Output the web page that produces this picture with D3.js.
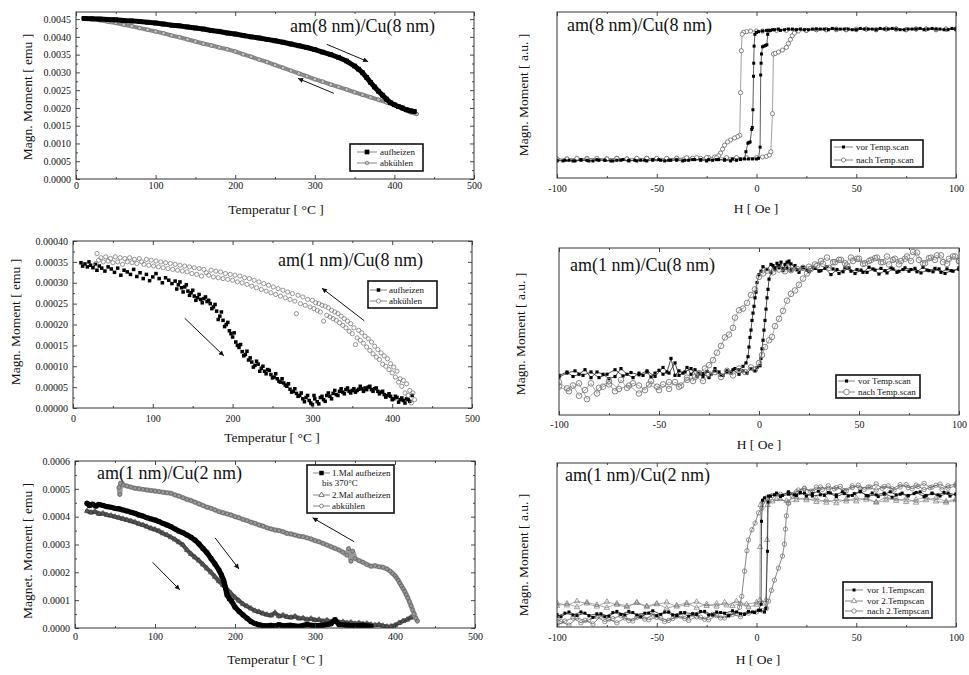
<!DOCTYPE html>
<html>
<head>
<meta charset="utf-8">
<script src="https://cdn.jsdelivr.net/npm/d3@7"></script>
<style>
  body { margin: 0; background: #fff; }
  svg text { font-family: "Liberation Serif", "Times New Roman", serif; fill: #111; }
</style>
</head>
<body>
<svg id="fig" width="969" height="675"></svg>
<script>
// ---------- tick values ----------
const tempTicks = [0, 100, 200, 300, 400, 500];
const tempMinor = [50, 150, 250, 350, 450];
const fieldTicks = [-100, -50, 0, 50, 100];
const fieldMinor = [-75, -25, 25, 75];
const p1Ticks = [0, 0.0005, 0.0010, 0.0015, 0.0020, 0.0025, 0.0030, 0.0035, 0.0040, 0.0045];
const p1Minor = [0.00025, 0.00075, 0.00125, 0.00175, 0.00225, 0.00275, 0.00325, 0.00375, 0.00425];
const p3Ticks = [0, 0.00005, 0.00010, 0.00015, 0.00020, 0.00025, 0.00030, 0.00035, 0.00040];
const p3Minor = [0.000025, 0.000075, 0.000125, 0.000175, 0.000225, 0.000275, 0.000325, 0.000375];
const p5Ticks = [0, 0.0001, 0.0002, 0.0003, 0.0004, 0.0005, 0.0006];
const p5Minor = [0.00005, 0.00015, 0.00025, 0.00035, 0.00045, 0.00055];

// ---------- am(8 nm)/Cu(8 nm): M(T) ----------
const p1Heat = [[10,0.00452],[20,0.00451],[30,0.00450],[40,0.00449],[50,0.00448],[60,0.00446],[70,0.00445],[80,0.00443],[90,0.00441],[100,0.00439],[110,0.00436],[120,0.00433],[130,0.00431],[140,0.00428],[150,0.00425],[160,0.00422],[170,0.00418],[180,0.00415],[190,0.00411],[200,0.00408],[210,0.00404],[220,0.00400],[230,0.00397],[240,0.00393],[250,0.00389],[260,0.00385],[270,0.00380],[280,0.00375],[290,0.00370],[300,0.00364],[310,0.00357],[320,0.00350],[330,0.00342],[340,0.00332],[350,0.00318],[355,0.00309],[360,0.00299],[365,0.00286],[370,0.00272],[375,0.00259],[380,0.00247],[385,0.00236],[390,0.00225],[395,0.00215],[400,0.00209],[405,0.00204],[410,0.00200],[415,0.00195],[420,0.00192],[425,0.00190]];
const p1Cool = [[428,0.00183],[420,0.00188],[410,0.00198],[400,0.00208],[390,0.00216],[380,0.00223],[370,0.00230],[360,0.00237],[350,0.00244],[340,0.00252],[330,0.00259],[320,0.00266],[310,0.00274],[300,0.00281],[290,0.00289],[280,0.00297],[270,0.00305],[260,0.00313],[250,0.00321],[240,0.00329],[230,0.00336],[220,0.00344],[210,0.00351],[200,0.00359],[190,0.00365],[180,0.00370],[170,0.00376],[160,0.00381],[150,0.00387],[140,0.00393],[130,0.00399],[120,0.00404],[110,0.00410],[100,0.00415],[90,0.00420],[80,0.00425],[70,0.00430],[60,0.00434],[50,0.00439],[40,0.00443],[30,0.00447],[20,0.00450],[15,0.00451]];
const p1Arrows = [[315,0.00379,367,0.00330],[324,0.00241,279,0.00283]];

// ---------- am(8 nm)/Cu(8 nm): hysteresis ----------
const p2VorDown = [[100,1.00],[96,0.99],[92,1.00],[88,1.01],[84,0.99],[80,1.00],[76,1.00],[72,0.99],[68,1.01],[64,1.00],[60,0.99],[56,1.00],[52,1.01],[48,0.99],[44,1.00],[40,1.00],[36,0.99],[32,1.00],[28,1.00],[24,0.99],[20,0.99],[16,1.00],[12,0.98],[9,0.99],[7,0.98],[5,0.98],[3,0.97],[1,0.96],[0,0.95],[-0.8,0.92],[-1.2,0.74],[-1.4,0.48],[-1.5,0.28],[-1.8,-0.23],[-2.1,-0.50],[-2.4,-0.53],[-3.2,-0.72],[-3.8,-0.73],[-4.3,-0.74],[-5.3,-0.87],[-6,-0.98],[-8,-0.99],[-10,-1.00],[-13,-1.01],[-16,-1.00],[-19,-0.99],[-22,-1.00],[-25,-1.01],[-28,-1.00],[-31,-0.99],[-34,-1.00],[-37,-1.01],[-40,-1.00],[-43,-1.00],[-46,-1.01],[-49,-0.99],[-52,-1.00],[-55,-1.01],[-58,-1.00],[-61,-1.00],[-64,-1.01],[-67,-0.99],[-70,-1.00],[-73,-1.01],[-76,-1.00],[-79,-1.00],[-82,-1.01],[-85,-1.00],[-88,-0.99],[-91,-1.01],[-94,-1.00],[-97,-1.01],[-100,-1.00]];
const p2VorUp = [[-100,-1.01],[-96,-1.00],[-92,-1.01],[-88,-1.00],[-84,-1.01],[-80,-0.99],[-76,-1.00],[-72,-1.01],[-68,-1.00],[-64,-1.00],[-60,-1.01],[-56,-1.00],[-52,-0.99],[-48,-1.00],[-44,-1.00],[-40,-0.99],[-36,-1.00],[-32,-0.99],[-28,-0.99],[-24,-0.99],[-20,-0.99],[-16,-0.99],[-12,-0.98],[-8,-0.98],[-4,-0.98],[-2,-0.98],[0,-0.98],[1,-0.97],[1.8,-0.80],[2.1,0.30],[2.3,0.48],[2.5,0.62],[3.0,0.73],[3.8,0.74],[4.5,0.75],[5.2,0.76],[5.6,0.92],[6,0.98],[8,0.99],[11,1.00],[14,0.99],[18,1.00],[22,1.00],[26,0.99],[30,1.00],[34,1.00],[38,1.01],[42,1.00],[46,1.00],[50,0.99],[54,1.00],[58,1.00],[62,1.01],[66,1.00],[70,1.00],[74,0.99],[78,1.00],[82,1.01],[86,1.00],[90,1.00],[94,0.99],[98,1.01],[100,1.00]];
const p2NachDown = [[100,1.00],[95,1.00],[90,0.99],[85,1.00],[80,1.00],[75,0.99],[70,1.00],[65,1.00],[60,0.99],[55,1.00],[50,0.99],[45,0.99],[40,0.99],[35,0.99],[30,0.99],[25,0.98],[20,0.98],[15,0.98],[10,0.98],[6,0.97],[3,0.97],[0,0.97],[-3,0.97],[-5,0.96],[-6.5,0.95],[-7.2,0.92],[-7.6,0.67],[-8.0,0.03],[-8.4,-0.62],[-9.5,-0.64],[-11,-0.66],[-13,-0.69],[-14.5,-0.72],[-16,-0.77],[-17,-0.83],[-18,-0.89],[-19,-0.93],[-21,-0.95],[-24,-0.96],[-28,-0.97],[-32,-0.97],[-36,-0.98],[-40,-0.97],[-45,-0.98],[-50,-0.98],[-55,-0.97],[-60,-0.98],[-65,-0.98],[-70,-0.97],[-75,-0.98],[-80,-0.98],[-85,-0.97],[-90,-0.98],[-95,-0.98],[-100,-0.98]];
const p2NachUp = [[-100,-0.98],[-95,-0.98],[-90,-0.97],[-85,-0.98],[-80,-0.97],[-75,-0.98],[-70,-0.97],[-65,-0.98],[-60,-0.97],[-55,-0.97],[-50,-0.97],[-45,-0.97],[-40,-0.97],[-35,-0.96],[-30,-0.96],[-25,-0.96],[-20,-0.96],[-15,-0.96],[-10,-0.96],[-5,-0.96],[0,-0.96],[3,-0.95],[5,-0.94],[6.5,-0.92],[7.2,-0.87],[8.0,-0.29],[8.5,0.62],[9.5,0.63],[11,0.65],[13,0.68],[15,0.72],[16,0.78],[17,0.84],[18,0.90],[19,0.94],[21,0.97],[25,0.98],[30,0.99],[35,0.99],[40,1.00],[45,0.99],[50,1.00],[55,1.00],[60,0.99],[65,1.00],[70,1.00],[75,0.99],[80,1.00],[85,1.00],[90,0.99],[95,1.00],[100,1.00]];

// ---------- am(1 nm)/Cu(8 nm): M(T) ----------
const p3Heat = [[10,3.48e-4],[12,3.40e-4],[15,3.45e-4],[18,3.38e-4],[20,3.50e-4],[22,3.42e-4],[25,3.36e-4],[28,3.44e-4],[30,3.30e-4],[33,3.40e-4],[36,3.35e-4],[40,3.28e-4],[44,3.38e-4],[48,3.33e-4],[52,3.25e-4],[56,3.35e-4],[60,3.18e-4],[64,3.30e-4],[68,3.26e-4],[72,3.20e-4],[76,3.32e-4],[80,3.15e-4],[84,3.24e-4],[88,3.10e-4],[92,3.20e-4],[96,3.05e-4],[100,3.14e-4],[104,3.22e-4],[108,3.10e-4],[112,3.00e-4],[116,3.12e-4],[120,3.06e-4],[124,2.98e-4],[128,3.04e-4],[132,2.95e-4],[136,2.88e-4],[140,2.90e-4],[144,2.80e-4],[148,2.76e-4],[152,2.68e-4],[156,2.64e-4],[160,2.60e-4],[164,2.62e-4],[168,2.55e-4],[172,2.50e-4],[176,2.42e-4],[180,2.32e-4],[184,2.20e-4],[188,2.10e-4],[192,2.00e-4],[196,1.85e-4],[200,1.70e-4],[204,1.58e-4],[208,1.45e-4],[212,1.35e-4],[216,1.28e-4],[220,1.15e-4],[224,1.10e-4],[228,1.02e-4],[232,1.05e-4],[236,0.95e-4],[240,0.88e-4],[244,0.92e-4],[248,0.80e-4],[252,0.74e-4],[256,0.70e-4],[260,0.62e-4],[264,0.60e-4],[268,0.52e-4],[272,0.45e-4],[276,0.40e-4],[280,0.35e-4],[284,0.30e-4],[288,0.22e-4],[292,0.25e-4],[296,0.18e-4],[300,0.08e-4],[303,0.22e-4],[306,0.15e-4],[310,0.25e-4],[314,0.20e-4],[318,0.30e-4],[322,0.28e-4],[326,0.35e-4],[330,0.32e-4],[334,0.40e-4],[338,0.38e-4],[342,0.44e-4],[346,0.40e-4],[350,0.42e-4],[354,0.38e-4],[358,0.45e-4],[362,0.46e-4],[366,0.48e-4],[370,0.50e-4],[374,0.44e-4],[378,0.46e-4],[382,0.40e-4],[386,0.38e-4],[390,0.32e-4],[394,0.30e-4],[398,0.28e-4],[402,0.22e-4],[406,0.25e-4],[410,0.20e-4],[414,0.18e-4],[418,0.22e-4],[422,0.16e-4],[425,0.30e-4],
  [130,2.85e-4],[134,3.02e-4],[138,2.78e-4],[142,2.95e-4],[146,2.70e-4],[150,2.82e-4],[154,2.58e-4],[158,2.72e-4],[162,2.52e-4],[166,2.66e-4],[170,2.58e-4],[174,2.38e-4],[178,2.48e-4],[182,2.12e-4],[186,2.30e-4],[190,1.95e-4],[194,2.05e-4],[198,1.78e-4],[202,1.80e-4],[206,1.50e-4],[210,1.52e-4],[214,1.25e-4],[218,1.36e-4],[222,1.20e-4],[226,0.98e-4],[230,1.12e-4],[234,0.88e-4],[238,1.00e-4],[242,0.82e-4],[246,0.90e-4],[250,0.72e-4],[254,0.82e-4],[258,0.64e-4],[262,0.70e-4],[266,0.55e-4],[270,0.58e-4],[274,0.38e-4],[278,0.46e-4],[282,0.28e-4],[286,0.36e-4],[290,0.15e-4],[294,0.30e-4],[298,0.12e-4],[302,0.30e-4],[308,0.10e-4],[312,0.28e-4],[316,0.16e-4],[320,0.36e-4],[324,0.22e-4],[328,0.42e-4],[332,0.30e-4],[336,0.46e-4],[340,0.34e-4],[344,0.48e-4],[348,0.36e-4],[352,0.46e-4],[356,0.42e-4],[360,0.52e-4],[364,0.40e-4],[368,0.44e-4],[372,0.52e-4],[376,0.40e-4],[380,0.48e-4],[384,0.34e-4],[388,0.40e-4],[392,0.26e-4],[396,0.34e-4],[400,0.20e-4],[404,0.28e-4],[408,0.14e-4],[412,0.24e-4],[416,0.12e-4],[420,0.20e-4]];
const p3Cool = [[428,0.20e-4],[426,0.36e-4],[424,0.12e-4],[422,0.42e-4],[420,0.30e-4],[418,0.58e-4],[416,0.36e-4],[414,0.66e-4],[412,0.52e-4],[410,0.70e-4],[408,0.62e-4],[406,0.88e-4],[404,0.74e-4],[402,0.98e-4],[400,0.84e-4],[398,1.06e-4],[396,0.92e-4],[394,1.18e-4],[392,1.00e-4],[390,1.25e-4],[388,1.05e-4],[386,1.32e-4],[384,1.16e-4],[382,1.40e-4],[380,1.22e-4],[378,1.48e-4],[376,1.30e-4],[374,1.58e-4],[372,1.38e-4],[370,1.66e-4],[368,1.46e-4],[366,1.72e-4],[364,1.55e-4],[362,1.80e-4],[360,1.62e-4],[358,1.86e-4],[356,1.68e-4],[354,1.52e-4],[352,1.92e-4],[350,1.78e-4],[348,2.02e-4],[346,1.84e-4],[344,2.08e-4],[342,1.92e-4],[340,2.14e-4],[338,1.98e-4],[336,2.20e-4],[334,2.04e-4],[332,2.26e-4],[330,2.10e-4],[328,2.30e-4],[326,2.14e-4],[324,2.34e-4],[322,2.18e-4],[320,2.40e-4],[318,2.22e-4],[316,2.44e-4],[314,2.08e-4],[312,2.46e-4],[310,2.30e-4],[308,2.50e-4],[306,2.34e-4],[304,2.52e-4],[302,2.38e-4],[300,2.58e-4],[297,2.42e-4],[294,2.60e-4],[291,2.46e-4],[288,2.66e-4],[285,2.50e-4],[282,2.70e-4],[280,2.26e-4],[278,2.56e-4],[275,2.74e-4],[272,2.60e-4],[269,2.78e-4],[266,2.64e-4],[263,2.82e-4],[260,2.68e-4],[257,2.86e-4],[254,2.72e-4],[251,2.90e-4],[248,2.76e-4],[245,2.94e-4],[242,2.80e-4],[239,2.98e-4],[236,2.84e-4],[233,3.02e-4],[230,2.88e-4],[227,3.06e-4],[224,2.92e-4],[221,3.10e-4],[218,2.96e-4],[215,3.12e-4],[212,3.00e-4],[209,3.16e-4],[206,3.02e-4],[203,3.18e-4],[200,3.06e-4],[197,3.20e-4],[194,3.08e-4],[191,3.22e-4],[188,3.10e-4],[185,3.26e-4],[182,3.12e-4],[179,3.28e-4],[176,3.14e-4],[173,3.30e-4],[170,3.18e-4],[167,3.24e-4],[164,3.32e-4],[161,3.16e-4],[158,3.34e-4],[155,3.20e-4],[152,3.36e-4],[149,3.22e-4],[146,3.38e-4],[143,3.26e-4],[140,3.40e-4],[137,3.28e-4],[134,3.42e-4],[131,3.30e-4],[128,3.44e-4],[125,3.32e-4],[122,3.46e-4],[119,3.34e-4],[116,3.48e-4],[113,3.36e-4],[110,3.50e-4],[107,3.38e-4],[104,3.52e-4],[101,3.40e-4],[98,3.54e-4],[95,3.42e-4],[92,3.56e-4],[89,3.44e-4],[86,3.50e-4],[83,3.58e-4],[80,3.46e-4],[77,3.56e-4],[74,3.48e-4],[71,3.60e-4],[68,3.50e-4],[65,3.58e-4],[62,3.44e-4],[59,3.60e-4],[56,3.50e-4],[53,3.62e-4],[50,3.48e-4],[47,3.58e-4],[44,3.52e-4],[41,3.62e-4],[38,3.50e-4],[35,3.60e-4],[32,3.54e-4],[30,3.70e-4],[29,3.46e-4]];
const p3Arrows = [[140,0.000215,189,0.000125],[365,0.000209,312,0.000287]];

// ---------- am(1 nm)/Cu(8 nm): hysteresis ----------
const p4VorDown = [[100,0.98],[97,0.92],[94,0.96],[91,0.90],[88,0.97],[85,0.93],[82,0.99],[79,0.91],[76,0.95],[73,0.98],[70,0.92],[67,0.96],[64,0.89],[61,0.97],[58,0.94],[55,0.99],[52,0.90],[49,0.95],[46,0.92],[43,0.98],[40,0.88],[37,0.96],[34,1.00],[31,0.93],[28,0.97],[25,0.91],[22,0.99],[19,0.95],[16,1.05],[14,1.08],[12,0.96],[10,1.02],[8,0.98],[6,1.04],[4,0.95],[2,1.00],[1,0.92],[0,0.86],[-1,0.72],[-1.5,0.55],[-2,0.45],[-2.5,0.30],[-3,0.18],[-3.5,0.05],[-4,-0.12],[-4.5,-0.25],[-5,-0.42],[-5.5,-0.59],[-6.5,-0.70],[-8,-0.76],[-10,-0.82],[-12,-0.80],[-14,-0.88],[-16,-0.84],[-18,-0.92],[-20,-0.86],[-22,-0.80],[-24,-0.90],[-26,-0.85],[-28,-0.94],[-30,-0.88],[-32,-0.82],[-34,-0.90],[-36,-0.78],[-38,-0.88],[-40,-0.84],[-42,-0.92],[-44,-0.62],[-46,-0.86],[-48,-0.90],[-50,-0.83],[-52,-0.88],[-54,-0.95],[-56,-0.86],[-58,-0.92],[-60,-0.88],[-63,-0.96],[-66,-0.90],[-69,-0.80],[-72,-0.94],[-75,-0.98],[-78,-0.90],[-81,-0.86],[-84,-0.96],[-87,-0.82],[-90,-0.90],[-93,-0.94],[-96,-0.86],[-100,-0.92]];
const p4VorUp = [[-100,-0.95],[-96,-0.88],[-92,-0.84],[-88,-0.92],[-84,-0.86],[-80,-0.96],[-76,-0.90],[-72,-0.82],[-68,-0.93],[-64,-0.87],[-60,-0.91],[-56,-0.84],[-52,-0.94],[-48,-0.78],[-45,-0.88],[-42,-0.70],[-40,-0.92],[-37,-0.86],[-34,-0.80],[-31,-0.94],[-28,-0.89],[-25,-0.96],[-22,-0.84],[-19,-0.92],[-16,-0.87],[-13,-0.82],[-10,-0.90],[-8,-0.84],[-6,-0.88],[-4,-0.80],[-2,-0.84],[-1,-0.78],[0.5,-0.75],[1,-0.62],[1.5,-0.45],[2,-0.30],[2.5,-0.12],[3,0.05],[3.5,0.25],[4,0.45],[4.5,0.60],[5,0.78],[6,0.90],[7,1.02],[8,0.95],[9,1.06],[10,0.98],[11,1.08],[12,0.93],[13,1.04],[14,0.97],[15,1.10],[16,0.94],[18,1.02],[20,0.90],[22,0.98],[24,0.94],[27,0.99],[30,0.92],[33,0.97],[36,0.86],[39,0.95],[42,0.91],[45,0.98],[48,0.88],[51,0.94],[54,0.90],[57,0.96],[60,0.87],[63,0.93],[66,0.98],[69,0.90],[72,0.95],[75,0.92],[78,0.97],[81,0.89],[84,0.94],[87,0.91],[90,0.96],[93,0.88],[96,0.93],[100,0.95]];
const p4NachDown = [[100,1.10],[97,1.18],[94,1.05],[91,1.20],[88,1.12],[85,1.15],[82,1.06],[79,1.25],[76,1.10],[73,1.14],[70,1.04],[67,1.12],[64,1.18],[61,1.08],[58,1.15],[55,1.10],[52,1.05],[49,1.14],[46,1.16],[43,1.06],[40,1.12],[37,1.08],[34,1.16],[31,1.10],[28,1.04],[25,1.00],[22,0.98],[19,0.96],[16,0.94],[13,0.92],[10,0.95],[7,0.90],[4,0.93],[2,0.88],[0,0.82],[-2,0.60],[-4,0.50],[-6,0.36],[-8,0.26],[-10,0.23],[-12,0.10],[-13,-0.08],[-15,-0.20],[-17,-0.25],[-19,-0.40],[-21,-0.52],[-23,-0.65],[-25,-0.74],[-27,-0.80],[-30,-0.88],[-33,-1.02],[-36,-0.96],[-39,-1.10],[-42,-1.04],[-45,-1.16],[-48,-1.08],[-51,-1.12],[-54,-1.02],[-57,-1.18],[-60,-1.10],[-63,-1.06],[-66,-1.14],[-69,-1.00],[-72,-1.20],[-75,-1.08],[-78,-1.12],[-81,-1.24],[-84,-1.06],[-87,-1.18],[-90,-1.28],[-93,-1.10],[-96,-1.15],[-100,-1.04]];
const p4NachUp = [[-100,-1.12],[-95,-1.20],[-90,-1.06],[-86,-1.34],[-80,-1.14],[-75,-1.02],[-70,-1.16],[-65,-1.10],[-60,-1.24],[-55,-1.08],[-50,-1.18],[-45,-1.04],[-40,-1.12],[-36,-1.00],[-32,-0.95],[-28,-1.02],[-25,-0.90],[-22,-0.86],[-19,-0.95],[-16,-0.84],[-13,-0.92],[-10,-0.80],[-7,-0.86],[-4,-0.78],[-2,-0.82],[0,-0.70],[1.5,-0.56],[3,-0.42],[5,-0.30],[6.5,-0.24],[8,-0.05],[10,0.08],[12,0.22],[14,0.40],[16,0.52],[18,0.58],[20,0.68],[22,0.79],[24,0.88],[26,0.96],[29,1.02],[32,1.05],[35,0.98],[38,1.08],[41,1.12],[44,1.02],[47,1.10],[50,1.14],[53,1.06],[56,1.12],[59,1.16],[62,1.08],[65,1.04],[68,1.14],[71,1.10],[74,1.18],[77,1.26],[80,1.12],[83,1.06],[86,1.16],[89,1.20],[92,1.08],[95,1.14],[98,1.18],[100,1.10]];

// ---------- am(1 nm)/Cu(2 nm): M(T) ----------
const p5Heat1 = [[15,4.48e-4],[18,4.40e-4],[22,4.45e-4],[26,4.38e-4],[30,4.44e-4],[35,4.40e-4],[40,4.36e-4],[45,4.34e-4],[50,4.30e-4],[55,4.28e-4],[60,4.24e-4],[65,4.20e-4],[70,4.16e-4],[75,4.12e-4],[80,4.06e-4],[85,4.02e-4],[90,3.96e-4],[95,3.92e-4],[100,3.88e-4],[105,3.82e-4],[110,3.76e-4],[115,3.70e-4],[120,3.64e-4],[125,3.56e-4],[130,3.48e-4],[135,3.42e-4],[140,3.34e-4],[145,3.26e-4],[150,3.16e-4],[155,3.02e-4],[160,2.86e-4],[165,2.70e-4],[170,2.50e-4],[175,2.30e-4],[180,2.08e-4],[183,1.90e-4],[186,1.70e-4],[188,1.45e-4],[190,1.19e-4],[193,1.05e-4],[196,0.95e-4],[200,0.75e-4],[205,0.60e-4],[210,0.47e-4],[215,0.35e-4],[220,0.23e-4],[225,0.16e-4],[230,0.11e-4],[235,0.09e-4],[240,0.08e-4],[245,0.10e-4],[250,0.07e-4],[255,0.12e-4],[260,0.08e-4],[270,0.10e-4],[280,0.06e-4],[290,0.12e-4],[300,0.08e-4],[310,0.10e-4],[320,0.15e-4],[325,0.30e-4],[330,0.12e-4],[340,0.10e-4],[350,0.08e-4],[360,0.10e-4],[370,0.06e-4]];
const p5Heat2 = [[15,4.20e-4],[20,4.15e-4],[25,4.18e-4],[30,4.10e-4],[35,4.12e-4],[40,4.06e-4],[45,4.04e-4],[50,4.00e-4],[55,3.96e-4],[60,3.92e-4],[65,3.88e-4],[70,3.84e-4],[75,3.80e-4],[80,3.74e-4],[85,3.70e-4],[90,3.64e-4],[95,3.58e-4],[100,3.54e-4],[105,3.48e-4],[110,3.40e-4],[115,3.34e-4],[120,3.26e-4],[125,3.18e-4],[130,3.08e-4],[135,2.98e-4],[140,2.80e-4],[145,2.66e-4],[150,2.54e-4],[155,2.42e-4],[160,2.28e-4],[165,2.14e-4],[170,2.00e-4],[175,1.84e-4],[180,1.68e-4],[185,1.54e-4],[190,1.40e-4],[195,1.24e-4],[200,1.10e-4],[205,0.98e-4],[210,0.86e-4],[215,0.78e-4],[220,0.70e-4],[225,0.62e-4],[230,0.58e-4],[235,0.52e-4],[240,0.48e-4],[245,0.45e-4],[250,0.55e-4],[255,0.42e-4],[260,0.46e-4],[265,0.40e-4],[270,0.38e-4],[275,0.42e-4],[280,0.34e-4],[285,0.36e-4],[290,0.30e-4],[295,0.34e-4],[300,0.28e-4],[305,0.30e-4],[310,0.24e-4],[315,0.28e-4],[320,0.22e-4],[325,0.25e-4],[330,0.20e-4],[335,0.22e-4],[340,0.18e-4],[345,0.20e-4],[350,0.15e-4],[355,0.18e-4],[360,0.14e-4],[365,0.16e-4],[370,0.12e-4],[375,0.10e-4],[380,0.12e-4],[385,0.08e-4],[390,0.05e-4],[395,0.06e-4],[400,0.10e-4],[405,0.18e-4],[410,0.25e-4],[415,0.30e-4],[420,0.38e-4],[425,0.40e-4]];
const p5Cool = [[428,0.25e-4],[426,0.35e-4],[424,0.50e-4],[422,0.65e-4],[420,0.80e-4],[418,0.95e-4],[416,1.08e-4],[414,1.20e-4],[412,1.32e-4],[410,1.42e-4],[408,1.52e-4],[406,1.62e-4],[404,1.72e-4],[402,1.80e-4],[400,1.88e-4],[397,1.96e-4],[394,2.04e-4],[390,2.12e-4],[385,2.18e-4],[380,2.20e-4],[375,2.24e-4],[370,2.22e-4],[365,2.28e-4],[360,2.36e-4],[355,2.42e-4],[350,2.50e-4],[347,2.76e-4],[345,2.40e-4],[342,2.85e-4],[340,2.62e-4],[335,2.72e-4],[330,2.80e-4],[325,2.86e-4],[320,2.92e-4],[315,2.98e-4],[310,3.04e-4],[305,3.10e-4],[300,3.14e-4],[295,3.20e-4],[290,3.24e-4],[285,3.28e-4],[280,3.30e-4],[275,3.34e-4],[270,3.38e-4],[265,3.40e-4],[260,3.46e-4],[255,3.50e-4],[250,3.52e-4],[245,3.56e-4],[240,3.60e-4],[235,3.66e-4],[230,3.70e-4],[225,3.76e-4],[220,3.80e-4],[215,3.86e-4],[210,3.90e-4],[205,3.96e-4],[200,4.00e-4],[195,4.06e-4],[190,4.10e-4],[185,4.14e-4],[180,4.18e-4],[175,4.24e-4],[170,4.30e-4],[165,4.34e-4],[160,4.40e-4],[155,4.46e-4],[150,4.52e-4],[145,4.58e-4],[140,4.62e-4],[135,4.68e-4],[130,4.74e-4],[125,4.78e-4],[120,4.84e-4],[115,4.86e-4],[110,4.88e-4],[105,4.90e-4],[100,4.92e-4],[95,4.94e-4],[90,4.96e-4],[85,4.98e-4],[80,5.00e-4],[75,5.02e-4],[70,5.06e-4],[65,5.10e-4],[60,5.14e-4],[57,5.20e-4],[56,4.80e-4],[55,5.05e-4]];
const p5Arrows = [[97,0.000236,131,0.000137],[175,0.000324,205,0.000212],[349,0.000310,297,0.000396]];

// ---------- am(1 nm)/Cu(2 nm): hysteresis ----------
const p6Vor1Down = [[100,0.97],[96,1.00],[92,0.95],[88,0.99],[84,0.94],[80,1.01],[76,0.96],[72,0.98],[68,0.93],[64,1.00],[60,0.97],[56,0.95],[52,1.02],[48,0.96],[44,0.99],[40,0.94],[36,1.01],[32,0.97],[28,0.95],[24,1.00],[20,0.96],[16,0.98],[12,0.94],[9,0.97],[6,0.95],[4,0.92],[3,0.88],[2.5,0.53],[2.3,-0.85],[1,-0.95],[-2,-0.98],[-6,-1.02],[-10,-0.98],[-14,-1.04],[-18,-0.99],[-22,-1.03],[-26,-0.97],[-30,-1.02],[-34,-1.05],[-38,-0.99],[-42,-1.03],[-46,-0.98],[-50,-1.04],[-54,-1.00],[-58,-1.06],[-62,-0.99],[-66,-1.03],[-70,-0.97],[-74,-1.05],[-78,-1.01],[-82,-1.07],[-86,-1.00],[-90,-1.04],[-94,-0.98],[-98,-1.06],[-100,-1.02]];
const p6Vor1Up = [[-100,-1.05],[-96,-1.00],[-92,-1.03],[-88,-0.98],[-84,-1.04],[-80,-1.01],[-76,-1.06],[-72,-0.99],[-68,-1.02],[-64,-0.97],[-60,-1.03],[-56,-1.00],[-52,-0.96],[-48,-1.02],[-44,-0.98],[-40,-1.04],[-36,-0.99],[-32,-1.01],[-28,-0.97],[-24,-1.03],[-20,-0.98],[-16,-1.00],[-12,-0.96],[-8,-1.01],[-4,-0.97],[-1,-0.99],[2,-0.95],[4,-0.98],[4.7,-0.92],[5.5,0.03],[5.8,0.85],[7,0.95],[10,1.00],[13,0.96],[16,1.02],[19,0.97],[22,1.01],[25,0.95],[28,0.99],[31,1.03],[34,0.96],[37,1.00],[40,0.97],[43,1.02],[46,0.95],[49,0.99],[52,1.03],[55,0.96],[58,1.00],[61,0.94],[64,0.98],[67,1.02],[70,0.97],[73,1.00],[76,0.95],[79,0.99],[82,1.02],[85,0.96],[88,1.00],[91,0.97],[94,1.01],[97,0.95],[100,0.99]];
const p6Vor2Down = [[100,0.90],[95,0.86],[90,0.92],[85,0.88],[80,0.84],[75,0.91],[70,0.87],[65,0.93],[60,0.85],[55,0.89],[50,0.92],[45,0.86],[40,0.90],[35,0.84],[30,0.91],[25,0.88],[20,0.93],[15,0.87],[10,0.90],[6,0.88],[3,0.86],[2,0.80],[1.8,0.10],[1.6,-0.78],[0,-0.86],[-4,-0.90],[-8,-0.84],[-12,-0.88],[-16,-0.82],[-20,-0.89],[-25,-0.85],[-30,-0.91],[-35,-0.83],[-40,-0.87],[-45,-0.92],[-50,-0.84],[-55,-0.88],[-60,-0.82],[-65,-0.90],[-70,-0.86],[-75,-0.81],[-80,-0.89],[-85,-0.84],[-90,-0.80],[-95,-0.87],[-100,-0.83]];
const p6Vor2Up = [[-100,-0.88],[-95,-0.84],[-90,-0.90],[-85,-0.82],[-80,-0.86],[-75,-0.91],[-70,-0.84],[-65,-0.88],[-60,-0.83],[-55,-0.90],[-50,-0.85],[-45,-0.82],[-40,-0.89],[-35,-0.86],[-30,-0.81],[-25,-0.88],[-20,-0.84],[-15,-0.87],[-10,-0.80],[-5,-0.85],[0,-0.82],[3,-0.84],[4.8,-0.78],[5.3,0.22],[5.6,0.80],[8,0.86],[12,0.90],[16,0.84],[20,0.88],[25,0.92],[30,0.85],[35,0.89],[40,0.83],[45,0.90],[50,0.86],[55,0.92],[60,0.84],[65,0.88],[70,0.91],[75,0.85],[80,0.89],[85,0.93],[90,0.86],[95,0.84],[100,0.88]];
const p6Nach2Down = [[100,1.12],[96,1.08],[92,1.15],[88,1.10],[84,1.06],[80,1.13],[76,1.09],[72,1.14],[68,1.07],[64,1.11],[60,1.05],[56,1.10],[52,1.08],[48,1.12],[44,1.04],[40,1.09],[36,1.06],[32,1.10],[28,1.03],[24,1.07],[20,1.02],[16,1.00],[12,0.98],[8,0.96],[5,0.92],[2.7,0.75],[1,0.67],[-0.7,0.50],[-2.3,0.39],[-4,0.22],[-4.8,0.04],[-6,-0.30],[-7.4,-0.72],[-8.5,-0.90],[-10,-1.00],[-14,-1.04],[-18,-1.08],[-22,-1.02],[-26,-1.10],[-30,-1.06],[-34,-1.12],[-38,-1.05],[-42,-1.09],[-46,-1.14],[-50,-1.07],[-54,-1.11],[-58,-1.04],[-62,-1.13],[-66,-1.08],[-70,-1.16],[-74,-1.10],[-78,-1.05],[-82,-1.18],[-86,-1.12],[-90,-1.08],[-94,-1.20],[-98,-1.14],[-100,-1.10]];
const p6Nach2Up = [[-100,-1.20],[-96,-1.13],[-92,-1.08],[-88,-1.16],[-84,-1.11],[-80,-1.06],[-76,-1.14],[-72,-1.09],[-68,-1.04],[-64,-1.12],[-60,-1.07],[-56,-1.10],[-52,-1.03],[-48,-1.08],[-44,-1.12],[-40,-1.05],[-36,-1.09],[-32,-1.02],[-28,-1.07],[-24,-1.11],[-20,-1.04],[-16,-1.08],[-12,-1.02],[-8,-1.06],[-4,-1.00],[0,-0.98],[3,-0.96],[5,-0.92],[6,-0.80],[7.5,-0.62],[9,-0.45],[11,-0.25],[13,-0.05],[14,0.15],[14.5,0.40],[15,0.62],[16,0.83],[18,0.95],[21,1.05],[24,1.08],[27,1.03],[30,1.10],[33,1.06],[36,1.12],[39,1.07],[42,1.11],[45,1.04],[48,1.09],[51,1.13],[54,1.06],[57,1.10],[60,1.15],[63,1.08],[66,1.12],[69,1.05],[72,1.10],[75,1.14],[78,1.07],[81,1.11],[84,1.16],[87,1.09],[90,1.13],[93,1.06],[96,1.12],[100,1.15]];

// ---------- marker styles ----------
const SQ = d3.symbolSquare, CI = d3.symbolCircle, TR = d3.symbolTriangle;
const circ = r => Math.PI * r * r;
const FONT = '"Liberation Serif", "Times New Roman", serif';
const plainInt = d => String(d);   // ASCII hyphen for negative labels

const panels = [
  { box: [76, 12, 474, 179], x: [0, 500], y: [0, 0.0047],
    xMajor: tempTicks, xMinor: tempMinor, xFmt: plainInt, xPad: 3,
    yMajor: p1Ticks, yMinor: p1Minor, yFmt: d3.format(".4f"),
    title: ["am(8 nm)/Cu(8 nm)", 290, 32],
    xTitle: ["Temperatur [ °C ]", 276, 214], yTitle: ["Magn. Moment [ emu ]", 27, 97],
    series: [
      { parts: [p1Cool], shape: CI, size: circ(1.8), fill: "#c4c4c4", stroke: "#5e5e5e", sw: 0.6, line: ["#8a8a8a", 4.2] },
      { parts: [p1Heat], shape: SQ, size: 22, fill: "#000", stroke: "none", sw: 0, line: ["#000", 5] }
    ],
    legend: { box: [350, 144, 73, 27], lx: [357, 377], tx: 380, rows: [
      { y: 152, text: "aufheizen", s: 1 }, { y: 163, text: "abkühlen", s: 0 } ] },
    arrows: p1Arrows },
  { box: [557, 12, 956, 178], x: [-100, 100], y: [-1.27, 1.26],
    xMajor: fieldTicks, xMinor: fieldMinor, xFmt: plainInt, xPad: 6.5,
    title: ["am(8 nm)/Cu(8 nm)", 567, 31],
    xTitle: ["H [ Oe ]", 756, 213], yTitle: ["Magn. Moment [ a.u. ]", 523, 95],
    series: [
      { parts: [p2NachDown, p2NachUp], shape: CI, size: circ(2.1), fill: "#fff", stroke: "#555", sw: 0.7, line: ["#777", 0.7] },
      { parts: [p2VorDown, p2VorUp], shape: SQ, size: 9, fill: "#000", stroke: "none", sw: 0, line: ["#333", 0.8] }
    ],
    legend: { box: [831, 140, 92, 27], lx: [834, 853], tx: 856, rows: [
      { y: 147, text: "vor Temp.scan", s: 1 }, { y: 160, text: "nach Temp.scan", s: 0 } ] },
    arrows: [] },
  { box: [73, 241, 472, 408], x: [0, 500], y: [0, 0.0004],
    xMajor: tempTicks, xMinor: tempMinor, xFmt: plainInt, xPad: 6.5,
    yMajor: p3Ticks, yMinor: p3Minor, yFmt: d3.format(".5f"),
    title: ["am(1 nm)/Cu(8 nm)", 278, 266],
    xTitle: ["Temperatur [ °C ]", 272, 442], yTitle: ["Magn. Moment [ emu ]", 15, 322],
    series: [
      { parts: [p3Heat], shape: SQ, size: 12.5, fill: "#000", stroke: "none", sw: 0, line: null },
      { parts: [p3Cool], shape: CI, size: circ(2.1), fill: "none", stroke: "#7a7a7a", sw: 0.8, line: null }
    ],
    legend: { box: [368, 281, 69, 27], lx: [370, 387], tx: 389, rows: [
      { y: 290, text: "aufheizen", s: 0 }, { y: 301, text: "abkühlen", s: 1 } ] },
    arrows: p3Arrows },
  { box: [559, 248, 959, 415], x: [-100, 100], y: [-1.62, 1.33],
    xMajor: fieldTicks, xMinor: fieldMinor, xFmt: plainInt, xPad: 5.5,
    title: ["am(1 nm)/Cu(8 nm)", 570, 271],
    xTitle: ["H [ Oe ]", 759, 449], yTitle: ["Magn. Moment [ a.u. ]", 520, 334],
    series: [
      { parts: [p4VorDown, p4VorUp], shape: SQ, size: 10, fill: "#000", stroke: "none", sw: 0, line: ["#222", 0.8] },
      { parts: [p4NachDown, p4NachUp], shape: CI, size: circ(2.8), fill: "none", stroke: "#7a7a7a", sw: 0.9, line: ["#999", 0.8] }
    ],
    legend: { box: [836, 375, 84, 23], lx: [838, 855], tx: 858, rows: [
      { y: 381, text: "vor Temp.scan", s: 0 }, { y: 392, text: "nach Temp.scan", s: 1 } ] },
    arrows: [] },
  { box: [75, 461, 475, 628], x: [0, 500], y: [0, 0.0006],
    xMajor: tempTicks, xMinor: tempMinor, xFmt: plainInt, xPad: 4.5,
    yMajor: p5Ticks, yMinor: p5Minor, yFmt: d3.format(".4f"),
    title: ["am(1 nm)/Cu(2 nm)", 97, 479],
    xTitle: ["Temperatur [ °C ]", 275, 664], yTitle: ["Magnet. Moment [ emu ]", 27, 551],
    series: [
      { parts: [p5Heat2], shape: TR, size: 12, fill: "none", stroke: "#333", sw: 0.6, line: ["#565656", 4.2] },
      { parts: [p5Heat1], shape: SQ, size: 20, fill: "#000", stroke: "none", sw: 0, line: ["#000", 5.2] },
      { parts: [p5Cool], shape: CI, size: circ(1.9), fill: "none", stroke: "#5f5f5f", sw: 0.7, line: ["#9a9a9a", 5] }
    ],
    legend: { box: [307, 465, 87, 48], lx: [313, 330], tx: 332, rows: [
      { y: 473, text: "1.Mal aufheizen", s: 1 }, { y: 483, text: "bis 370°C", s: -1, x: 322 },
      { y: 495, text: "2.Mal aufheizen", s: 0 }, { y: 506, text: "abkühlen", s: 2 } ] },
    arrows: p5Arrows },
  { box: [557, 463, 956, 627], x: [-100, 100], y: [-1.23, 1.5],
    xMajor: fieldTicks, xMinor: fieldMinor, xFmt: plainInt, xPad: 7,
    title: ["am(1 nm)/Cu(2 nm)", 565, 481],
    xTitle: ["H [ Oe ]", 758, 664], yTitle: ["Magn. Moment [ a.u. ]", 523, 555],
    series: [
      { parts: [p6Nach2Down, p6Nach2Up], shape: CI, size: circ(2.2), fill: "none", stroke: "#666", sw: 0.7, line: ["#555", 0.7] },
      { parts: [p6Vor2Down, p6Vor2Up], shape: TR, size: 12, fill: "none", stroke: "#777", sw: 0.7, line: ["#888", 0.7] },
      { parts: [p6Vor1Down, p6Vor1Up], shape: SQ, size: 9, fill: "#000", stroke: "none", sw: 0, line: ["#222", 0.8] }
    ],
    legend: { box: [843, 582, 89, 36], lx: [845, 863], tx: 867, rows: [
      { y: 590, text: "vor 1.Tempscan", s: 2 }, { y: 601, text: "vor 2.Tempscan", s: 1 },
      { y: 611, text: "nach 2.Tempscan", s: 0 } ] },
    arrows: [] }
];

// ---------- drawing ----------
const svg = d3.select("#fig");
const defs = svg.append("defs");
defs.append("marker").attr("id", "arrowHead")
  .attr("viewBox", "0 0 10 10").attr("refX", 10).attr("refY", 5)
  .attr("markerWidth", 7).attr("markerHeight", 5).attr("markerUnits", "userSpaceOnUse")
  .attr("orient", "auto")
  .append("path").attr("d", "M0,0L10,5L0,10z").attr("fill", "#111");

function drawSymbol(sel, s, px, py) {
  sel.append("path")
    .attr("transform", `translate(${px},${py})`)
    .attr("d", d3.symbol(s.shape, s.size)())
    .attr("fill", s.fill).attr("stroke", s.stroke).attr("stroke-width", s.sw);
}

function tickRow(g, axisFn, scale, values, size, transform, fmt, pad) {
  const ax = axisFn(scale).tickValues(values).tickSize(size).tickPadding(pad || 3)
    .tickFormat(fmt || "");
  const a = g.append("g").attr("transform", transform).call(ax);
  a.select(".domain").remove();
  a.selectAll("line").attr("stroke", "#333").attr("stroke-width", 0.9);
  a.attr("font-family", FONT).attr("font-size", 10);
  a.selectAll("text").style("font-family", FONT).style("font-size", "10px").attr("fill", "#111");
  return a;
}

function label(g, txt, size) {
  return g.append("text").style("font-family", FONT).style("font-size", size).text(txt);
}

panels.forEach((p, i) => {
  const [L, T, R, B] = p.box;
  const x = d3.scaleLinear().domain(p.x).range([L, R]);
  const y = d3.scaleLinear().domain(p.y).range([B, T]);
  const g = svg.append("g");
  const clipId = "plotClip" + i;
  defs.append("clipPath").attr("id", clipId).append("rect")
    .attr("x", L).attr("y", T).attr("width", R - L).attr("height", B - T);

  const plot = g.append("g").attr("clip-path", `url(#${clipId})`);
  const line = d3.line().x(d => x(d[0])).y(d => y(d[1]));
  p.series.forEach(s => {
    if (s.line) s.parts.forEach(part => {
      plot.append("path").datum(part).attr("d", line)
        .attr("fill", "none").attr("stroke", s.line[0]).attr("stroke-width", s.line[1])
        .attr("stroke-linejoin", "round").attr("stroke-linecap", "round");
    });
    s.parts.forEach(part => {
      plot.append("g").selectAll("path").data(part).join("path")
        .attr("transform", d => `translate(${x(d[0])},${y(d[1])})`)
        .attr("d", d3.symbol(s.shape, s.size)())
        .attr("fill", s.fill).attr("stroke", s.stroke).attr("stroke-width", s.sw);
    });
  });

  // direction arrows
  p.arrows.forEach(a => {
    g.append("line")
      .attr("x1", x(a[0])).attr("y1", y(a[1])).attr("x2", x(a[2])).attr("y2", y(a[3]))
      .attr("stroke", "#111").attr("stroke-width", 1).attr("marker-end", "url(#arrowHead)");
  });

  // frame
  g.append("rect").attr("x", L).attr("y", T).attr("width", R - L).attr("height", B - T)
    .attr("fill", "none").attr("stroke", "#333").attr("stroke-width", 1);

  // inward ticks
  tickRow(g, d3.axisBottom, x, p.xMajor, -4, `translate(0,${B})`, p.xFmt, p.xPad);
  tickRow(g, d3.axisBottom, x, p.xMinor, -2, `translate(0,${B})`);
  tickRow(g, d3.axisTop, x, p.xMajor, -4, `translate(0,${T})`);
  tickRow(g, d3.axisTop, x, p.xMinor, -2, `translate(0,${T})`);
  if (p.yMajor) {
    tickRow(g, d3.axisLeft, y, p.yMajor, -4, `translate(${L},0)`, p.yFmt, 5);
    tickRow(g, d3.axisLeft, y, p.yMinor, -2, `translate(${L},0)`);
    tickRow(g, d3.axisRight, y, p.yMajor, -4, `translate(${R},0)`);
    tickRow(g, d3.axisRight, y, p.yMinor, -2, `translate(${R},0)`);
  }

  // titles
  label(g, p.title[0], "18px").attr("x", p.title[1]).attr("y", p.title[2]);
  label(g, p.xTitle[0], "13.5px").attr("x", p.xTitle[1]).attr("y", p.xTitle[2])
    .attr("text-anchor", "middle");
  label(g, p.yTitle[0], "13.5px")
    .attr("transform", `translate(${p.yTitle[1]},${p.yTitle[2]}) rotate(-90)`)
    .attr("text-anchor", "middle").attr("dy", "0.35em");

  // legend
  const lg = p.legend;
  const leg = g.append("g");
  leg.append("rect").attr("x", lg.box[0]).attr("y", lg.box[1])
    .attr("width", lg.box[2]).attr("height", lg.box[3])
    .attr("fill", "#fff").attr("stroke", "#111").attr("stroke-width", 1.6);
  lg.rows.forEach(r => {
    if (r.s >= 0) {
      const s = p.series[r.s];
      leg.append("line").attr("x1", lg.lx[0]).attr("x2", lg.lx[1]).attr("y1", r.y).attr("y2", r.y)
        .attr("stroke", "#666").attr("stroke-width", 0.8);
      drawSymbol(leg, { ...s, fill: s.fill === "none" ? "#fff" : s.fill }, (lg.lx[0] + lg.lx[1]) / 2, r.y);
    }
    label(leg, r.text, "9px").attr("x", r.x || lg.tx).attr("y", r.y).attr("dy", "0.33em");
  });
});
</script>
</body>
</html>
